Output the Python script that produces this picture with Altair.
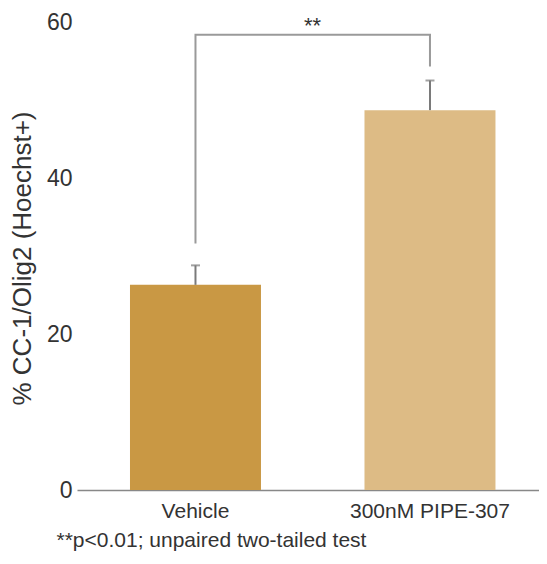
import altair as alt
import pandas as pd

# ---- data ----
groups = ["Vehicle", "300nM PIPE-307"]
means = [26.3, 48.7]
err_top = [28.8, 52.5]
bar_colors = ["#C99844", "#DDBB85"]

bracket_group = ["Vehicle", "Vehicle", "300nM PIPE-307", "300nM PIPE-307"]
bracket_value = [31.6, 58.35, 58.35, 54.3]
bracket_order = [0, 1, 2, 3]

star_label = "**"
star_value = 58.6
y_ticks = [0, 20, 40, 60]
footnote = "**p<0.01; unpaired two-tailed test"
y_title = "% CC-1/Olig2 (Hoechst+)"

FONT = "Liberation Sans"

bars_df = pd.DataFrame({"group": groups, "mean": means, "err": err_top})
bracket_df = pd.DataFrame({"group": bracket_group, "value": bracket_value, "i": bracket_order})
star_df = pd.DataFrame({"group": [groups[0]], "value": [star_value], "label": [star_label]})

x_scale = alt.Scale(domain=groups, paddingInner=0.4414, paddingOuter=0.2058, align=0.549)
y_scale = alt.Scale(domain=[0, 60], nice=False, zero=True)

x_enc = alt.X(
    "group:N",
    scale=x_scale,
    sort=groups,
    axis=alt.Axis(
        title=footnote,
        titleFont=FONT,
        titleFontSize=21,
        titleFontWeight="normal",
        titleColor="#333333",
        titleX=-21,
        titleY=50,
        titleAlign="left",
        titleBaseline="middle",
        labelAngle=0,
        labelFont=FONT,
        labelFontSize=21,
        labelColor="#333333",
        labelPadding=10,
        ticks=False,
        tickSize=0,
        domainColor="#888888",
        domainWidth=1.5,
        grid=False,
    ),
)

y_enc = alt.Y(
    "mean:Q",
    scale=y_scale,
    axis=alt.Axis(
        title=y_title,
        values=y_ticks,
        titleFont=FONT,
        titleFontSize=26,
        titleFontWeight="normal",
        titleColor="#333333",
        titleX=-55,
        titleY=236,
        titleAlign="center",
        titleBaseline="middle",
        labelFont=FONT,
        labelFontSize=23,
        labelColor="#333333",
        labelPadding=5,
        ticks=False,
        tickSize=0,
        domain=False,
        grid=False,
    ),
)

bars = alt.Chart(bars_df).mark_bar().encode(
    x=x_enc,
    y=y_enc,
    color=alt.Color("group:N", scale=alt.Scale(domain=groups, range=bar_colors), legend=None),
)

err_rule = alt.Chart(bars_df).mark_rule(color="#7a7a7a", strokeWidth=2).encode(
    x=alt.X("group:N", scale=x_scale, sort=groups),
    y=alt.Y("mean:Q", scale=y_scale),
    y2="err:Q",
)

err_cap = alt.Chart(bars_df).mark_tick(color="#7a7a7a", size=9, thickness=2).encode(
    x=alt.X("group:N", scale=x_scale, sort=groups),
    y=alt.Y("err:Q", scale=y_scale),
)

bracket = alt.Chart(bracket_df).mark_line(color="#9a9a9a", strokeWidth=2).encode(
    x=alt.X("group:N", scale=x_scale, sort=groups),
    y=alt.Y("value:Q", scale=y_scale),
    order=alt.Order("i:Q"),
)

stars = alt.Chart(star_df).mark_text(
    font=FONT, fontSize=22, color="#333333", dx=117, baseline="alphabetic", align="center"
).encode(
    x=alt.X("group:N", scale=x_scale, sort=groups),
    y=alt.Y("value:Q", scale=y_scale),
    text="label:N",
)

chart = (
    alt.layer(bars, err_rule, err_cap, bracket, stars)
    .properties(
        width=462,
        height=468,
        autosize=alt.AutoSizeParams(type="none"),
        padding={"left": 69, "top": 14, "right": 0, "bottom": 62},
        background="white",
    )
    .configure_view(stroke=None)
)

chart.save("out.html", embed_options={"renderer": "svg", "actions": False})
